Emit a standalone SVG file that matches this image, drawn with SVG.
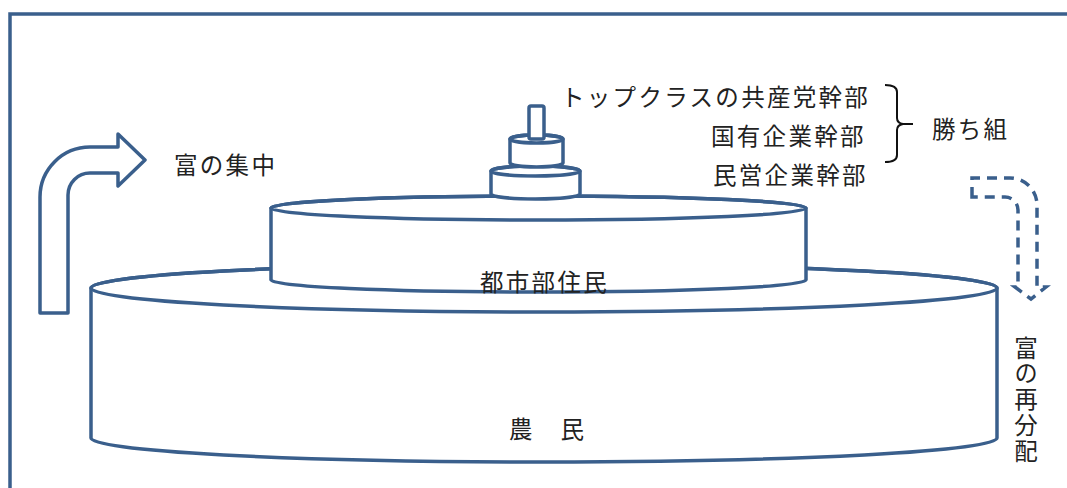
<svg xmlns="http://www.w3.org/2000/svg" width="1067" height="488" viewBox="0 0 1067 488">
<style>
.s{fill:#fff;stroke:#3A5F8C;stroke-width:3.5;stroke-linejoin:round}
.n{fill:none;stroke:#3A5F8C;stroke-width:3.5}
.t{font-family:"Noto Sans CJK JP","Noto Sans CJK SC",sans-serif;font-size:23.5px;fill:#222;letter-spacing:2.3px}
</style>
<rect width="1067" height="488" fill="#fff"/>
<g id="frame"><path class="n" d="M10,488 L10,14 L1067,14" stroke-width="3"/></g>
<g id="farmers">
<path class="s" d="M91,288 L91,438 A453,24 0 0 0 997,438 L997,288 A453,24 0 0 0 91,288 Z"/>
<ellipse class="n" cx="544" cy="288" rx="453" ry="24"/>
<text class="t" x="509" y="438">農　民</text>
</g>
<g id="urban">
<path class="s" d="M271,208 L271,280 A267.5,12 0 0 0 806,280 L806,208 A267.5,12 0 0 0 271,208 Z"/>
<ellipse class="n" cx="538.5" cy="208" rx="267.5" ry="12"/>
<text class="t" x="480" y="291">都市部住民</text>
</g>
<g id="elite">
<path class="s" d="M491,171 L491,194 A44.5,5 0 0 0 580,194 L580,171 A44.5,5 0 0 0 491,171 Z"/>
<ellipse class="n" cx="535.5" cy="171" rx="44.5" ry="5"/>
<path class="s" d="M510,139 L510,163 A26.5,4 0 0 0 563,163 L563,139 A26.5,4 0 0 0 510,139 Z"/>
<ellipse class="n" cx="536.5" cy="139" rx="26.5" ry="4"/>
<rect class="s" x="529" y="106" width="15" height="33" rx="2"/>
</g>
<g id="labels">
<text class="t" x="561" y="106">トップクラスの共産党幹部</text>
<text class="t" x="711" y="145">国有企業幹部</text>
<text class="t" x="713" y="184">民営企業幹部</text>
<path d="M885,85 Q897,85 897,92 L897,118 Q897,123 903,124 L913,124 M903,124 Q897,125 897,130 L897,155 Q897,162 885,162" fill="none" stroke="#111" stroke-width="2"/>
<text class="t" x="932" y="138">勝ち組</text>
</g>
<g id="connectors">
<path class="s" d="M40,313 L40,197 A50,50 0 0 1 90,147 L118,147 L118,134 L145,160 L118,186 L118,173 L90,173 A22,22 0 0 0 68,195 L68,313 Z"/>
<path class="n" stroke-width="4" stroke-dasharray="10,7" d="M972,197 L972,178 L1010,178 A27,27 0 0 1 1037,205 L1037,287 L1046,287 L1031,299 L1015,287 L1018,287 L1018,210 A13,13 0 0 0 1005,197 Z"/>
</g>
<g id="wealth-labels">
<text class="t" x="174" y="174">富の集中</text>
<text class="t" x="1026" y="336" writing-mode="vertical-rl" letter-spacing="3px">富の再分配</text>
</g>
</svg>
